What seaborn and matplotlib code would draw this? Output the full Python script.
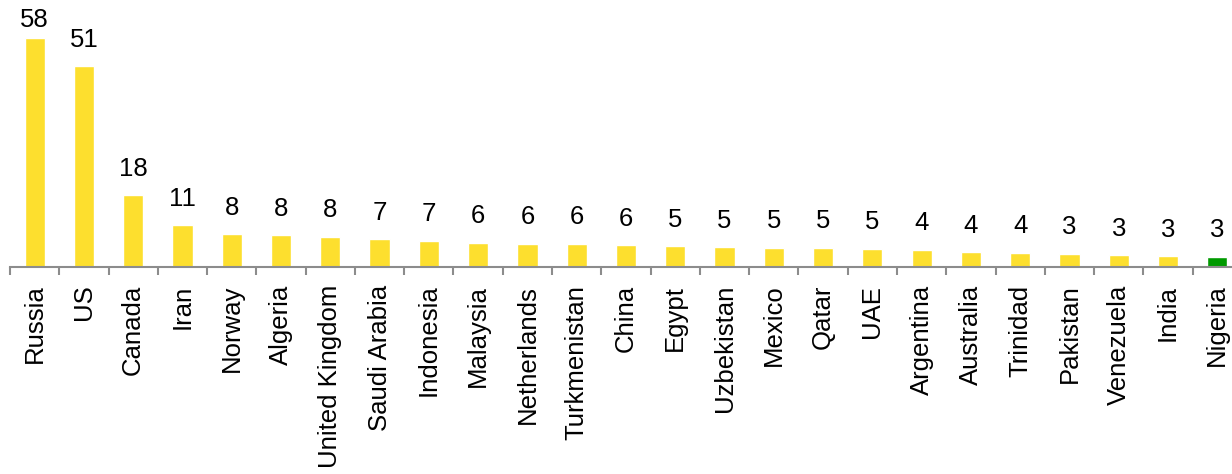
import matplotlib
matplotlib.use("Agg")
import matplotlib.pyplot as plt
import seaborn as sns
import numpy as np
import pandas as pd

# Gas production by country
countries = ["Russia", "US", "Canada", "Iran", "Norway", "Algeria", "United Kingdom",
             "Saudi Arabia", "Indonesia", "Malaysia", "Netherlands", "Turkmenistan",
             "China", "Egypt", "Uzbekistan", "Mexico", "Qatar", "UAE", "Argentina",
             "Australia", "Trinidad", "Pakistan", "Venezuela", "India", "Nigeria"]
values = [58.0, 50.9, 18.2, 10.5, 8.3, 8.0, 7.6, 7.0, 6.6, 6.1, 5.8, 5.8, 5.5,
          5.2, 5.0, 4.8, 4.8, 4.55, 4.3, 3.7, 3.55, 3.3, 2.9, 2.7, 2.55]
highlight = "Nigeria"

yellow = "#FDDF2E"
green = "#009A00"
axis_grey = "#8C8C8C"

sns.set_style("white")
plt.rcParams["font.family"] = ["Liberation Sans", "DejaVu Sans"]

df = pd.DataFrame({"country": countries, "value": values})
palette = {c: (green if c == highlight else yellow) for c in countries}

fig = plt.figure(figsize=(12.32, 4.74), dpi=100)
ax = fig.add_axes([0.0081, 0.4374, 1.0, 0.5626])

sns.barplot(data=df, x="country", y="value", hue="country", palette=palette,
            legend=False, width=0.41, saturation=1, ax=ax)

ymax = 67.7
ax.set_xlim(-0.5, len(countries) - 0.5)
ax.set_ylim(0, ymax)

# value labels sit a fixed distance above each bar, kept inside the plot area
label_gap = 6.7
label_ceiling = 62.6
for i, v in enumerate(values):
    ax.text(i, min(v + label_gap, label_ceiling), f"{int(v + 0.5)}",
            ha="center", va="center", fontsize=18.5, color="black")

for side in ["top", "right", "left"]:
    ax.spines[side].set_visible(False)
ax.spines["bottom"].set_color(axis_grey)
ax.spines["bottom"].set_linewidth(1.5)

ax.set_yticks([])
ax.set_xlabel("")
ax.set_ylabel("")
ax.set_xticks(np.arange(len(countries)))
ax.set_xticklabels(countries, rotation=90, fontsize=18.5, color="black")
ax.tick_params(axis="x", which="major", bottom=True, length=0, pad=13)
ax.set_xticks(np.arange(len(countries)) - 0.5, minor=True)
ax.tick_params(axis="x", which="minor", bottom=True, length=6, width=1.5,
               color=axis_grey, direction="out")

fig.savefig("out.png", dpi=100)
